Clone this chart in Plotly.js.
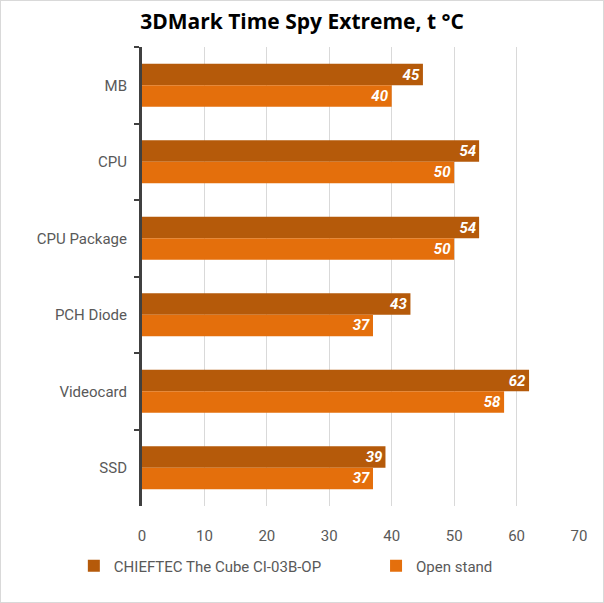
<!DOCTYPE html>
<html>
<head>
<meta charset="utf-8">
<script src="https://cdn.plot.ly/plotly-3.0.1.min.js"></script>
<style>
  html, body { margin: 0; padding: 0; background: #fff; }
  #chart { width: 602px; height: 601px; border: 1px solid #D9D9D9; }
</style>
</head>
<body>
<div id="chart"></div>
<script>
var categories = ['MB', 'CPU', 'CPU Package', 'PCH Diode', 'Videocard', 'SSD'];
var seriesNames = ['CHIEFTEC The Cube CI-03B-OP', 'Open stand'];
var cubeTemps = [45, 54, 54, 43, 62, 39];
var openTemps = [40, 50, 50, 37, 58, 37];
var xTicks = [0, 10, 20, 30, 40, 50, 60, 70];

var condensed = '"Roboto", sans-serif';

function makeTrace(name, vals, color, legendId) {
  return {
    type: 'bar',
    orientation: 'h',
    name: name,
    legend: legendId,
    y: categories,
    x: vals,
    text: vals.map(String),
    textposition: 'inside',
    insidetextanchor: 'end',
    constraintext: 'none',
    textangle: 0,
    textfont: { family: condensed, size: 15, color: '#FFFFFF', weight: 'bold', style: 'italic' },
    marker: { color: color },
    hoverinfo: 'x+y'
  };
}

var data = [
  makeTrace(seriesNames[0], cubeTemps, '#B55A0A', 'legend'),
  makeTrace(seriesNames[1], openTemps, '#E46F0C', 'legend2')
];

var legendFont = { family: condensed, size: 15, color: '#595959' };

var layout = {
  width: 602,
  height: 601,
  margin: { l: 141, r: 24, t: 46, b: 96 },
  paper_bgcolor: '#FFFFFF',
  plot_bgcolor: '#FFFFFF',
  title: {
    text: '<b>3DMark Time Spy Extreme, t °C</b>',
    font: { family: '"Open Sans", "Noto Sans", sans-serif', size: 21, color: '#000000' },
    x: 0.5, xanchor: 'center',
    y: 0.965, yanchor: 'middle'
  },
  barmode: 'group',
  bargap: 0.44,
  bargroupgap: 0,
  xaxis: {
    range: [0, 70],
    tickvals: xTicks,
    showgrid: true,
    gridcolor: '#D9D9D9',
    gridwidth: 1,
    zeroline: false,
    showline: false,
    ticks: 'outside',
    ticklen: 16,
    tickcolor: 'rgba(0,0,0,0)',
    tickfont: { family: condensed, size: 15, color: '#595959' }
  },
  yaxis: {
    autorange: 'reversed',
    showline: true,
    linecolor: '#404040',
    linewidth: 3,
    ticks: 'outside',
    tickson: 'boundaries',
    ticklen: 5,
    tickwidth: 2,
    tickcolor: '#404040',
    showgrid: false,
    tickfont: { family: condensed, size: 15, color: '#595959' },
    ticklabelstandoff: 9
  },
  showlegend: true,
  legend: {
    orientation: 'h',
    xref: 'container', yref: 'container',
    x: 0.121, xanchor: 'left',
    y: 0.06, yanchor: 'middle',
    font: legendFont,
    itemwidth: 30
  },
  legend2: {
    orientation: 'h',
    xref: 'container', yref: 'container',
    x: 0.623, xanchor: 'left',
    y: 0.06, yanchor: 'middle',
    font: legendFont,
    itemwidth: 30
  }
};

Plotly.newPlot('chart', data, layout, { displayModeBar: false, staticPlot: true });
</script>
</body>
</html>
